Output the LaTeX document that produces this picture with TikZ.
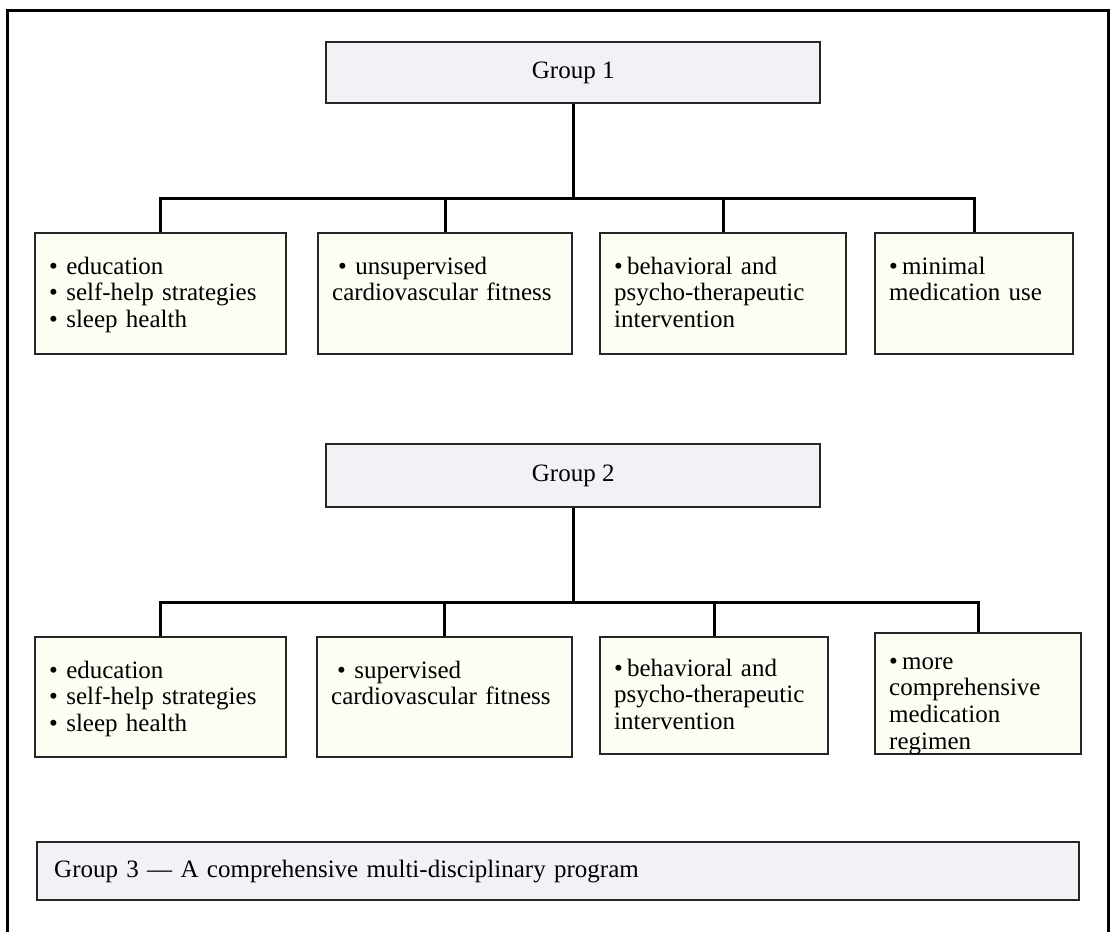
\documentclass[tikz,border=0pt]{standalone}
\usepackage{fontspec}
\setmainfont{Liberation Serif}
\usetikzlibrary{positioning}

\definecolor{headfill}{RGB}{241,241,246}
\definecolor{itemfill}{RGB}{253,253,244}

\begin{document}
\begin{tikzpicture}[x=0.5pt, y=-0.5pt,
  groupbox/.style={draw=black!85, line width=1.2pt, fill=headfill, anchor=north west,
              minimum width=247pt, minimum height=30.5pt, inner sep=0pt,
              font=\fontsize{12.5}{13.3}\selectfont},
  itembox/.style={draw=black!85, line width=1.2pt, fill=itemfill, anchor=north west,
              align=left, inner xsep=7pt, inner ysep=4pt, text height=16.5pt,
              text depth=36pt, font=\fontsize{12.5}{13.3}\selectfont},
  conn/.style={line width=1.5pt},
  outer/.style={line width=1.5pt}]
\clip (0,0) rectangle (1111,931);
\draw[outer] (7,11) rectangle (1108,960);
% group 1 and its four parts
\node[groupbox] (g1) at (325,41) {Group 1};
\node[itembox, text width=111.5pt] (b11) at (34,232)
  {\textbullet\ education\\ \textbullet\ self-help strategies\\ \textbullet\ sleep health};
\node[itembox, text width=113pt] (b12) at (317,232)
  {\hspace*{3pt}\textbullet\ unsupervised\\cardiovascular fitness};
\node[itembox, text width=109pt] (b13) at (599,232)
  {\textbullet\,behavioral and\\psycho-therapeutic\\intervention};
\node[itembox, text width=85pt] (b14) at (874,232)
  {\textbullet\,minimal\\medication use};
\coordinate (bar1) at (573,198);
\draw[conn] (g1.south) -- (g1.south |- bar1);
\draw[conn] (b11.north) |- (bar1) -| (b14.north);
\foreach \b in {b12,b13} \draw[conn] (\b.north) -- (\b.north |- bar1);
% group 2 and its four parts
\node[groupbox, minimum height=31.5pt] (g2) at (325,443) {Group 2};
\node[itembox, text width=111.5pt, text depth=35.5pt] (b21) at (34,636)
  {\textbullet\ education\\ \textbullet\ self-help strategies\\ \textbullet\ sleep health};
\node[itembox, text width=113.5pt, text depth=35.5pt] (b22) at (316,636)
  {\hspace*{3pt}\textbullet\ supervised\\cardiovascular fitness};
\node[itembox, text width=100pt, text height=15.5pt, text depth=35pt] (b23) at (599,636)
  {\textbullet\,behavioral and\\psycho-therapeutic\\intervention};
\node[itembox, text width=89pt, text height=14pt, text depth=38.5pt] (b24) at (874,632)
  {\textbullet\,more\\comprehensive\\medication\\regimen};
\coordinate (bar2) at (573,602);
\draw[conn] (g2.south) -- (g2.south |- bar2);
\draw[conn] (b21.north) |- (bar2) -| (b24.north);
\foreach \b in {b22,b23} \draw[conn] (\b.north) -- (\b.north |- bar2);
% group 3
\node[groupbox, minimum height=29pt, text width=504pt, align=left, inner xsep=8.5pt]
  (g3) at (36,841) {Group 3 --- A comprehensive multi-disciplinary program};
\end{tikzpicture}
\end{document}
